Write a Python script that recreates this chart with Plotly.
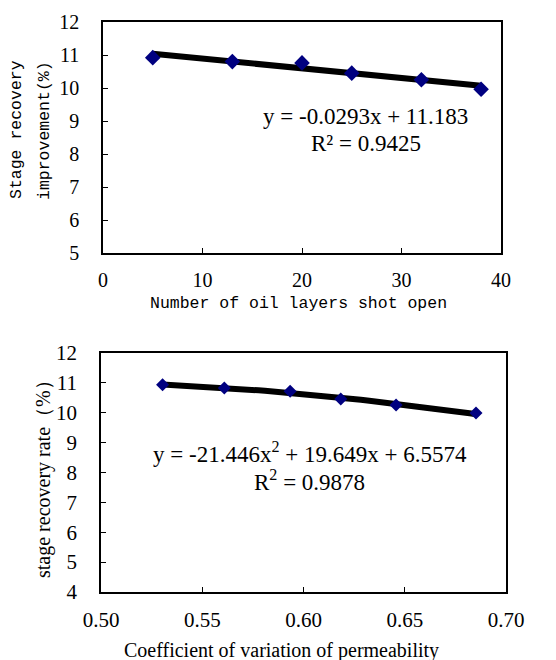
import numpy as np
import plotly.graph_objects as go

# Top chart data
layers_x = [5, 13, 20, 25, 32, 38]
layers_y = [10.92, 10.80, 10.76, 10.45, 10.25, 9.96]
lin_coef = [-0.0293, 11.183]
top_eq = "y = -0.0293x + 11.183"
top_r2 = "R² = 0.9425"

# Bottom chart data
perm_x = [0.5304, 0.5609, 0.5934, 0.6184, 0.6457, 0.6852]
perm_y = [10.94, 10.83, 10.72, 10.46, 10.26, 9.99]
quad_coef = [-21.446, 19.649, 6.5574]
bot_eq = "y = -21.446x<sup>2</sup> + 19.649x + 6.5574"
bot_r2 = "R<sup>2</sup> = 0.9878"

W, H = 556, 660
def px(x): return x / W
def py(y): return 1 - y / H

fig = go.Figure()

tx = np.linspace(min(layers_x), max(layers_x), 50)
fig.add_trace(go.Scatter(x=tx, y=np.polyval(lin_coef, tx), mode="lines",
                         line=dict(color="black", width=6), xaxis="x", yaxis="y",
                         showlegend=False, hoverinfo="skip"))
fig.add_trace(go.Scatter(x=layers_x, y=layers_y, mode="markers",
                         marker=dict(symbol="diamond", size=12, color="#000080"),
                         xaxis="x", yaxis="y", showlegend=False))

bx = np.linspace(min(perm_x), max(perm_x), 50)
fig.add_trace(go.Scatter(x=bx, y=np.polyval(quad_coef, bx), mode="lines",
                         line=dict(color="black", width=6), xaxis="x2", yaxis="y2",
                         showlegend=False, hoverinfo="skip"))
fig.add_trace(go.Scatter(x=perm_x, y=perm_y, mode="markers",
                         marker=dict(symbol="diamond", size=10, color="#000080"),
                         xaxis="x2", yaxis="y2", showlegend=False))

tick_font_top = dict(family="Liberation Serif", size=20, color="black")
tick_font_bot = dict(family="Liberation Serif", size=21, color="black")
axis_common = dict(showline=True, mirror=True, linecolor="black", linewidth=1.5,
                   ticks="inside", ticklen=5, tickcolor="black", showgrid=False,
                   zeroline=False, automargin=False)

fig.update_layout(
    width=W, height=H, margin=dict(l=0, r=0, t=0, b=0),
    paper_bgcolor="white", plot_bgcolor="white",
    xaxis=dict(domain=[px(103), px(501)], anchor="y", range=[0, 40], dtick=10,
               tickfont=tick_font_top, ticklabelstandoff=8, **axis_common),
    yaxis=dict(domain=[py(253), py(22)], anchor="x", range=[5, 12], dtick=1,
               tickfont=tick_font_top, ticklabelstandoff=18, **axis_common),
    xaxis2=dict(domain=[px(101), px(506)], anchor="y2", range=[0.5, 0.7], dtick=0.05,
                tickformat=".2f", tickfont=tick_font_bot, ticklabelstandoff=8, **axis_common),
    yaxis2=dict(domain=[py(592), py(353)], anchor="x2", range=[4, 12], dtick=1,
                tickfont=tick_font_bot, ticklabelstandoff=18, **axis_common),
)

mono = dict(family="Liberation Mono", size=16.5, color="black")
serif_eq = dict(family="Liberation Serif", size=23, color="black")
serif_title = dict(family="Liberation Serif", size=20, color="black")

ann = [
    dict(x=px(365), y=py(117), text=top_eq, font=serif_eq),
    dict(x=px(366), y=py(144), text=top_r2, font=serif_eq),
    dict(x=px(298), y=py(303), text="Number of oil layers shot open", font=mono),
    dict(x=px(16), y=py(130), text="Stage recovery", font=mono, textangle=-90),
    dict(x=px(44), y=py(131), text="improvement(%)", font=mono, textangle=-90),
    dict(x=px(310), y=py(452), text=bot_eq, font=serif_eq),
    dict(x=px(309), y=py(480), text=bot_r2, font=serif_eq),
    dict(x=px(281), y=py(650), text="Coefficient of variation of permeability", font=serif_title),
    dict(x=px(43), y=py(474), text="stage recovery rate（%）", font=serif_title, textangle=-90),
]
for a in ann:
    fig.add_annotation(xref="paper", yref="paper", showarrow=False,
                       xanchor="center", yanchor="middle", **a)

fig.write_html("out.html", config={"displayModeBar": False},
               post_script="document.body.style.margin='0';document.body.style.overflow='hidden';")
